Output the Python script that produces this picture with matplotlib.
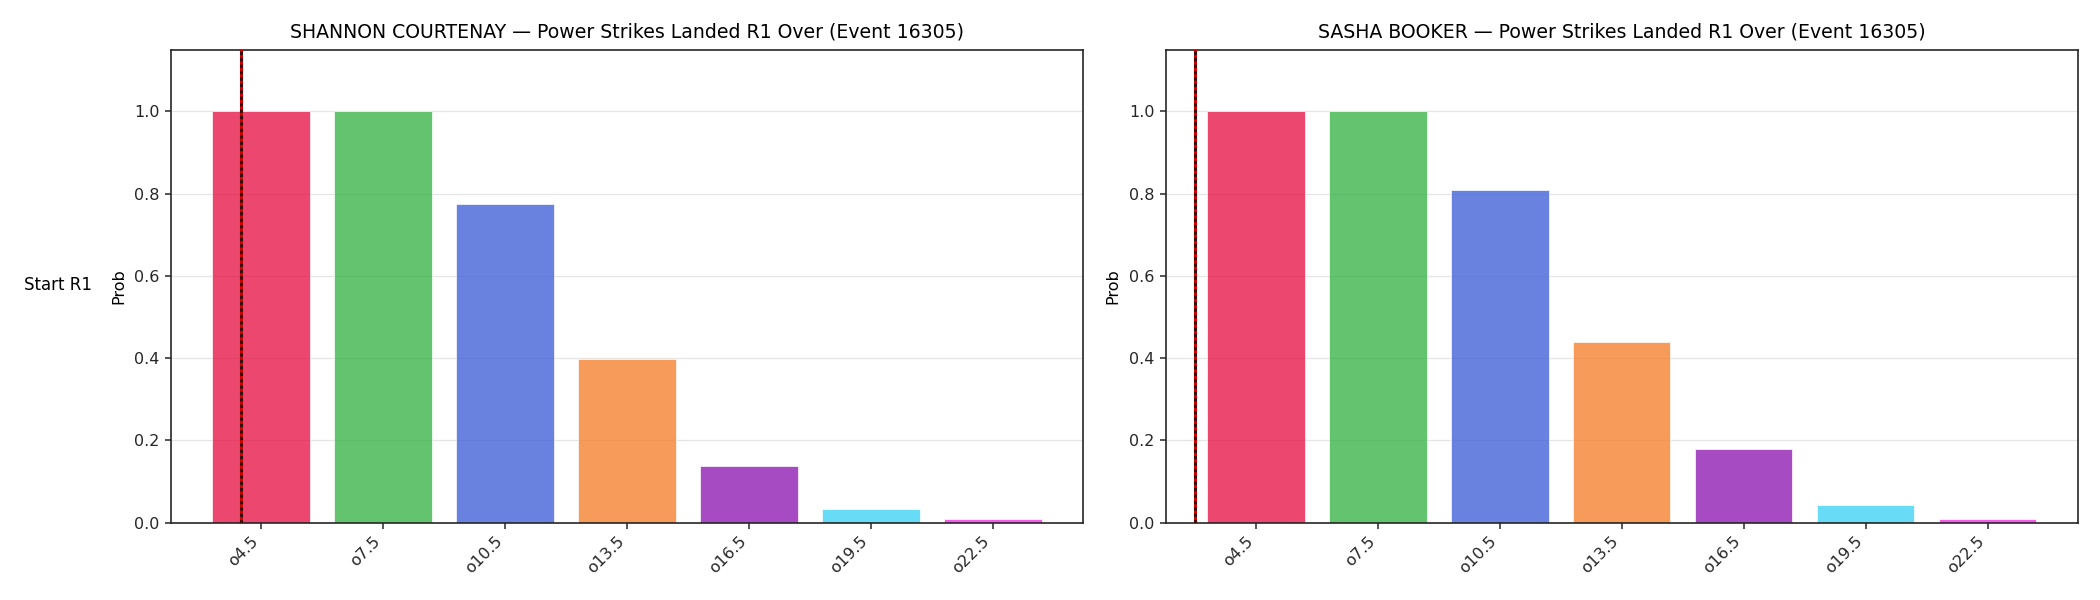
import matplotlib
matplotlib.use("Agg")
import matplotlib.pyplot as plt
import numpy as np

# chart data
event_id = 16305
fighters = ["SHANNON COURTENAY", "SASHA BOOKER"]
lines = ["o4.5", "o7.5", "o10.5", "o13.5", "o16.5", "o19.5", "o22.5"]
thresholds = [4.5, 7.5, 10.5, 13.5, 16.5, 19.5, 22.5]
probs_courtenay = [1.0, 1.0, 0.774, 0.397, 0.137, 0.034, 0.009]
probs_booker = [1.0, 1.0, 0.81, 0.44, 0.18, 0.043, 0.009]
start_marks = [4.0, 3.0]   # value marked with the red/black line
colors = ['#e6194b', '#3cb44b', '#4363d8', '#f58231', '#911eb4', '#42d4f4', '#f032e6']

plt.rcParams['axes.edgecolor'] = '#262626'
plt.rcParams['xtick.color'] = '#262626'
plt.rcParams['ytick.color'] = '#262626'
plt.rcParams['axes.linewidth'] = 1.2
plt.rcParams['xtick.major.size'] = 4.5
plt.rcParams['ytick.major.size'] = 4.5
plt.rcParams['xtick.major.width'] = 1.1
plt.rcParams['ytick.major.width'] = 1.1
plt.rcParams['xtick.labelsize'] = 11.5
plt.rcParams['ytick.labelsize'] = 11.5
plt.rcParams['axes.labelsize'] = 11.5

fig = plt.figure(figsize=(21, 6), dpi=100)
ax1 = fig.add_axes([0.0814, 0.129, 0.4343, 0.788])
ax2 = fig.add_axes([0.5551, 0.129, 0.4343, 0.788])

step = thresholds[1] - thresholds[0]
for ax, name, probs, mark in zip([ax1, ax2], fighters, [probs_courtenay, probs_booker], start_marks):
    x = np.arange(len(lines))
    ax.bar(x, probs, width=0.8, color=colors, alpha=0.8, edgecolor='white', linewidth=0.6, zorder=2)
    xl = ax.get_xlim()
    pos = (mark - thresholds[0]) / step
    ax.axvline(pos, color='#d00000', lw=2.2, zorder=3)
    ax.axvline(pos, color='#111111', lw=2.2, dashes=(1.1, 1.0), alpha=0.8, zorder=4)
    ax.set_xlim(xl)
    ax.set_ylim(0, 1.15)
    ax.set_xticks(x)
    ax.set_xticklabels(lines, rotation=45, ha='right')
    ax.set_ylabel("Prob", labelpad=6)
    ax.grid(axis='y', color='#cccccc', alpha=0.5, lw=0.9, zorder=0)
    ax.set_axisbelow(True)
    ax.set_title(f"{name} \u2014 Power Strikes Landed R1 Over (Event {event_id})", fontsize=13.6, pad=9)

fig.text(0.0275, 0.525, "Start R1", ha='center', va='center', fontsize=12)

fig.savefig("out.png", dpi=100)
